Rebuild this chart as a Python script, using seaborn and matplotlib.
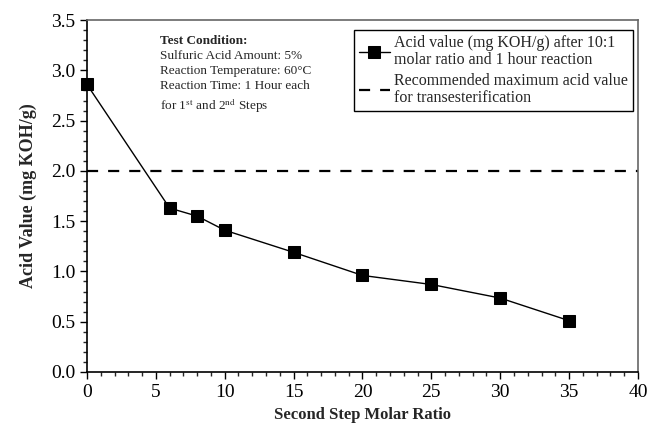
import numpy as np
import pandas as pd
import matplotlib
matplotlib.use("Agg")
import matplotlib.pyplot as plt
import seaborn as sns
from matplotlib.ticker import MultipleLocator

# data
molar_ratio = [0, 6, 8, 10, 15, 20, 25, 30, 35]
acid_value = [2.86, 1.63, 1.55, 1.41, 1.19, 0.96, 0.87, 0.735, 0.51]
recommended_max = 2.0

series_label = "Acid value (mg KOH/g) after 10:1\nmolar ratio and 1 hour reaction"
limit_label = "Recommended maximum acid value\nfor transesterification"

sns.set_style("ticks")
plt.rcParams["font.family"] = ["Liberation Serif", "DejaVu Serif"]
plt.rcParams["mathtext.fontset"] = "stix"

df = pd.DataFrame({"ratio": molar_ratio, "acid": acid_value})

fig = plt.figure(figsize=(6.49, 4.28), dpi=100)
ax = fig.add_axes([0.134, 0.131, 0.849, 0.822])

sns.lineplot(data=df, x="ratio", y="acid", ax=ax, color="black", lw=1,
             marker="s", markersize=8, markeredgecolor="black",
             label=series_label)
ax.lines[0].set_clip_on(False)
ax.axhline(recommended_max, color="black", lw=1.6, ls=(0, (5, 4.5)),
           label=limit_label)

ax.set_xlim(0, 40)
ax.set_ylim(0, 3.5)
ax.xaxis.set_major_locator(MultipleLocator(5))
ax.xaxis.set_minor_locator(MultipleLocator(1))
ax.yaxis.set_major_locator(MultipleLocator(0.5))
ax.yaxis.set_minor_locator(MultipleLocator(0.1))
ax.yaxis.set_major_formatter(matplotlib.ticker.FormatStrFormatter("%.1f"))
ax.tick_params(which="major", direction="out", length=5, width=1,
               labelsize=14, colors="black")
ax.tick_params(which="minor", direction="out", length=3, width=1)
ax.tick_params(axis="x", pad=4)

for side in ["left", "bottom"]:
    ax.spines[side].set_color("black")
    ax.spines[side].set_linewidth(1.2)
for side in ["top", "right"]:
    ax.spines[side].set_color("#666666")
    ax.spines[side].set_linewidth(1.2)

ax.set_xlabel("Second Step Molar Ratio", fontsize=12, fontweight="bold",
              labelpad=4)
ax.set_ylabel("Acid Value (mg KOH/g)", fontsize=13, fontweight="bold",
              labelpad=10)

ax.text(0.133, 0.958, "Test Condition:", transform=ax.transAxes,
        fontsize=9.5, fontweight="bold", va="top")
ax.text(0.133, 0.914,
        "Sulfuric Acid Amount: 5%\nReaction Temperature: 60\u00b0C\n"
        "Reaction Time: 1 Hour each\n"
        "for 1$^{\\mathrm{st}}$ and 2$^{\\mathrm{nd}}$ Steps",
        transform=ax.transAxes, fontsize=9.5, va="top", linespacing=1.3)

leg = ax.legend(loc="upper right", bbox_to_anchor=(0.991, 0.972),
                fontsize=11.5, frameon=True, fancybox=False, framealpha=1,
                edgecolor="black", handlelength=1.9, handletextpad=0.3,
                borderpad=0.3, labelspacing=0.3, borderaxespad=0)
leg.get_frame().set_linewidth(1)
for t in leg.get_texts():
    t.set_linespacing(1.1)

fig.savefig("out.png", dpi=100)
